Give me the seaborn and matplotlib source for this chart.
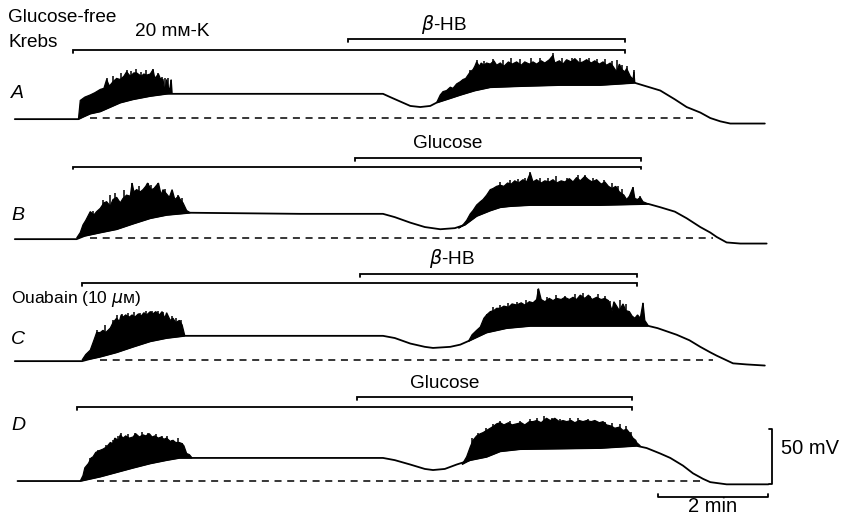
import numpy as np
import pandas as pd
import matplotlib
matplotlib.use("Agg")
import matplotlib.pyplot as plt
import seaborn as sns

# ---------------- data (time in s, membrane potential in mV above resting level) -------------
A_t = [-64, 6, 11, 19, 30, 41, 52, 66, 85, 103, 140, 250, 341, 349, 360, 371, 382, 393, 400, 415,
       426, 442, 459, 492, 536, 580, 618, 646, 662, 675, 690, 701, 712, 723, 761]
A_v = [-1, -1, 1, 4, 6, 10, 14, 17, 20, 22, 22, 22, 22, 19, 15, 11, 10, 11, 14, 18,
       21, 25, 28, 29, 30, 30, 32, 25, 17, 10, 5, 0, -3, -5, -5]
A_b1_t = [6, 8, 13, 19, 24, 30, 34, 37, 40, 44, 48, 52, 56, 59, 63, 67, 70, 75, 78, 81, 85, 88,
          90, 94, 96, 99, 101, 103, 106, 108, 109]
A_b1_v = [-1, 16, 19, 21, 23, 26, 27, 35, 29, 33, 36, 35, 38, 42, 38, 41, 41, 38, 40, 39, 40, 44,
          36, 40, 36, 35, 24, 35, 24, 35, 23]
A_b2_t = [400, 404, 407, 411, 415, 418, 422, 426, 429, 432, 437, 440, 442, 444, 447, 449, 452, 455,
          459, 463, 466, 470, 474, 479, 483, 488, 493, 497, 502, 506, 510, 515, 519, 524, 528, 530,
          535, 539, 543, 548, 552, 557, 561, 565, 570, 574, 579, 583, 587, 591, 594, 598, 601, 604,
          607, 609, 613, 616, 617, 618]
A_b2_v = [14, 21, 24, 25, 28, 27, 31, 33, 35, 36, 42, 44, 47, 51, 47, 50, 48, 50, 49, 52, 48, 50,
          47, 51, 49, 51, 48, 51, 49, 51, 49, 52, 50, 53, 57, 50, 52, 49, 53, 51, 54, 50, 51, 53,
          50, 52, 49, 51, 48, 50, 47, 42, 49, 44, 42, 45, 38, 35, 42, 32]
A_s1_t = [37, 44, 53, 59, 64, 69, 75, 80, 88, 94, 98, 101, 105, 108]
A_s1_v = [36, 38, 41, 44, 43, 45, 42, 44, 45, 41, 37, 36, 36, 35]
A_s2_t = [437, 444, 452, 462, 473, 482, 492, 504, 514, 528, 538, 549, 558, 568, 576, 585, 593,
          598, 604, 609, 617]
A_s2_v = [44, 53, 52, 54, 53, 55, 54, 55, 55, 59, 55, 55, 55, 55, 54, 54, 52, 53, 48, 47, 44]

B_t = [-64, 4, 13, 30, 48, 66, 85, 103, 129, 250, 341, 354, 371, 387, 404, 420, 431, 444, 459,
       470, 481, 503, 580, 633, 646, 662, 675, 690, 701, 708, 719, 734, 763]
B_v = [-1, -1, 2, 5, 8, 13, 18, 21, 23, 22, 22, 19, 14, 10, 8, 9, 12, 20, 25,
       28, 29, 30, 30, 31, 28, 24, 18, 10, 5, 1, -4, -5, -5]
B_b1_t = [4, 8, 11, 14, 19, 23, 26, 30, 34, 37, 41, 44, 48, 52, 55, 59, 63, 65, 67, 70, 74, 77,
          80, 82, 86, 89, 94, 97, 99, 102, 106, 109, 112, 116, 118, 121, 125, 129]
B_b1_v = [0, 5, 12, 16, 24, 21, 24, 27, 32, 33, 29, 35, 37, 32, 36, 39, 38, 50, 42, 44, 42, 44,
          47, 50, 44, 45, 50, 39, 44, 41, 37, 44, 35, 38, 35, 32, 25, 23]
B_b2_t = [424, 429, 433, 437, 440, 444, 448, 451, 455, 459, 462, 466, 470, 474, 478, 482, 486,
          490, 495, 499, 503, 506, 510, 515, 519, 524, 528, 532, 537, 541, 546, 550, 554, 558,
          563, 567, 571, 576, 581, 585, 589, 593, 597, 601, 606, 609, 612, 616, 618, 621, 624,
          627, 633]
B_b2_v = [9, 12, 16, 22, 25, 30, 33, 35, 39, 44, 45, 47, 48, 47, 50, 49, 52, 50, 53, 51, 59,
          51, 53, 50, 52, 51, 53, 50, 52, 51, 54, 51, 55, 52, 56, 53, 51, 53, 49, 51, 47, 45,
          47, 42, 39, 35, 38, 46, 36, 35, 37, 33, 31]
B_s1_t = [22, 33, 41, 46, 56, 65, 73, 82, 86, 94, 101, 109, 116, 120]
B_s1_v = [25, 35, 39, 41, 44, 50, 47, 50, 48, 50, 45, 42, 39, 36]
B_s2_t = [453, 461, 470, 481, 490, 497, 503, 514, 523, 531, 543, 556, 563, 572, 584, 593, 600,
          604, 616, 624]
B_s2_v = [36, 44, 51, 53, 54, 55, 60, 55, 55, 56, 55, 57, 57, 55, 53, 50, 47, 45, 46, 38]

C_t = [-64, 10, 19, 30, 48, 66, 85, 103, 123, 250, 341, 354, 371, 387, 396, 415, 426, 437, 455,
       477, 503, 580, 633, 643, 664, 678, 690, 701, 708, 726, 741, 761]
C_v = [-1, -1, 1, 3, 7, 12, 17, 20, 22, 22, 22, 20, 15, 12, 11, 12, 14, 18, 25,
       29, 31, 31, 31, 29, 23, 18, 12, 7, 4, -3, -4, -5]
C_b1_t = [10, 14, 19, 23, 26, 30, 33, 36, 41, 44, 48, 51, 53, 55, 58, 62, 65, 68, 72, 75, 78,
          81, 85, 88, 91, 95, 98, 101, 103, 107, 110, 113, 117, 120, 123]
C_b1_v = [0, 5, 9, 18, 25, 25, 27, 25, 29, 34, 38, 35, 41, 39, 41, 39, 41, 39, 42, 40, 43,
          41, 44, 42, 44, 41, 44, 38, 43, 36, 38, 34, 36, 32, 22]
C_b2_t = [435, 439, 444, 448, 452, 455, 459, 463, 466, 470, 474, 479, 483, 488, 493, 497, 502,
          506, 510, 512, 515, 519, 524, 528, 532, 537, 541, 546, 550, 554, 558, 563, 567, 571,
          576, 581, 585, 589, 593, 595, 598, 601, 605, 608, 612, 615, 618, 621, 624, 627, 629, 633]
C_b2_v = [17, 23, 27, 30, 38, 41, 44, 45, 47, 47, 49, 48, 51, 50, 52, 50, 53, 52, 55, 65, 55,
          53, 56, 54, 56, 55, 57, 55, 57, 55, 59, 56, 59, 55, 57, 55, 56, 54, 45, 53, 49, 45,
          51, 45, 44, 40, 38, 41, 38, 52, 36, 31]
C_s1_t = [26, 35, 44, 48, 54, 61, 67, 74, 80, 87, 94, 99, 103, 109, 113, 119]
C_s1_v = [27, 32, 36, 41, 42, 43, 44, 43, 45, 45, 45, 44, 42, 40, 38, 36]
C_s2_t = [450, 455, 462, 470, 479, 488, 498, 512, 521, 531, 541, 552, 561, 569, 578, 585, 591,
          602, 608, 627]
C_s2_v = [32, 42, 48, 50, 52, 53, 55, 65, 57, 59, 58, 60, 61, 58, 60, 58, 54, 55, 51, 52]

D_t = [-61, 8, 19, 30, 48, 66, 85, 103, 117, 250, 341, 354, 371, 387, 396, 409, 422, 437, 455,
       470, 492, 580, 620, 631, 646, 657, 671, 682, 693, 701, 719, 765]
D_v = [0, 0, 2, 4, 8, 12, 16, 19, 21, 21, 21, 19, 15, 11, 10, 11, 15, 19, 22,
       27, 29, 30, 32, 30, 25, 21, 14, 7, 2, -1, -3, -3]
D_b1_t = [8, 11, 13, 17, 20, 22, 25, 30, 33, 37, 41, 44, 46, 50, 52, 55, 58, 62, 66, 69, 73,
          77, 80, 84, 87, 90, 94, 97, 100, 103, 107, 110, 113, 117, 120, 122, 125, 128, 131]
D_b1_v = [0, 5, 12, 16, 21, 22, 26, 28, 29, 31, 35, 34, 39, 37, 42, 39, 41, 39, 40, 43, 40,
          42, 41, 43, 40, 41, 39, 40, 38, 39, 36, 37, 35, 35, 34, 32, 25, 24, 21]
D_b2_t = [428, 433, 437, 440, 444, 448, 451, 455, 459, 463, 466, 470, 474, 479, 483, 488, 493,
          497, 502, 506, 510, 515, 519, 521, 525, 530, 535, 539, 543, 548, 552, 557, 561, 565,
          570, 574, 579, 583, 587, 592, 596, 601, 605, 609, 613, 616, 619, 620, 624]
D_b2_v = [15, 22, 31, 37, 41, 43, 44, 46, 48, 50, 52, 53, 51, 53, 51, 52, 53, 51, 54, 54, 55,
          53, 56, 57, 55, 57, 54, 55, 54, 55, 53, 55, 54, 55, 54, 55, 53, 54, 51, 50, 48, 49,
          46, 47, 43, 39, 37, 35, 32]
D_s1_t = [19, 28, 36, 44, 50, 53, 61, 68, 76, 83, 91, 98, 103, 109, 116, 120]
D_s1_v = [21, 28, 33, 37, 41, 44, 43, 44, 45, 44, 43, 41, 41, 37, 39, 35]
D_s2_t = [439, 446, 454, 462, 470, 481, 492, 503, 510, 518, 527, 536, 547, 556, 567, 575, 585,
          593, 602, 608, 614]
D_s2_v = [39, 44, 48, 52, 55, 55, 55, 56, 57, 59, 57, 56, 57, 57, 56, 55, 54, 53, 52, 50, 45]

# dashed resting-potential lines (start, end time)
A_rest = [19, 682]
B_rest = [19, 704]
C_rest = [30, 704]
D_rest = [26, 690]

# solution bars: (start time, end time)
A_bars = {"20 mм-K": [0, 607], "β-HB": [303, 607]}
B_bars = {"long": [0, 625], "Glucose": [310, 625]}
C_bars = {"long": [10, 620], "β-HB": [316, 620]}
D_bars = {"long": [4, 615], "Glucose": [312, 615]}

scale_time = [644, 764]   # 2 min
scale_volt = [31, 81]     # 50 mV

# ---------------- layout -------------------------------------------------------------------
W, H = 847, 518
XL = (-80.3, 851.4)
YL = (0.0, 470.9)
offsets = {"A": 363.6, "B": 254.5, "C": 143.6, "D": 33.6}
bar_heights = {"A": (62, 72), "B": (65, 73), "C": (70, 78), "D": (67, 76)}

sns.set_style("white")
plt.rcParams["font.family"] = ["Liberation Sans", "DejaVu Sans"]
plt.rcParams["mathtext.fontset"] = "dejavusans"
plt.rcParams["text.color"] = "black"

fig = plt.figure(figsize=(W / 100, H / 100), dpi=100)
ax = fig.add_axes([0, 0, 1, 1])
ax.set_xlim(*XL)
ax.set_ylim(*YL)
ax.axis("off")

LW = 1.3
traces = {
    "A": (A_t, A_v, [(A_b1_t, A_b1_v), (A_b2_t, A_b2_v)], [(A_s1_t, A_s1_v), (A_s2_t, A_s2_v)], A_rest, A_bars),
    "B": (B_t, B_v, [(B_b1_t, B_b1_v), (B_b2_t, B_b2_v)], [(B_s1_t, B_s1_v), (B_s2_t, B_s2_v)], B_rest, B_bars),
    "C": (C_t, C_v, [(C_b1_t, C_b1_v), (C_b2_t, C_b2_v)], [(C_s1_t, C_s1_v), (C_s2_t, C_s2_v)], C_rest, C_bars),
    "D": (D_t, D_v, [(D_b1_t, D_b1_v), (D_b2_t, D_b2_v)], [(D_s1_t, D_s1_v), (D_s2_t, D_s2_v)], D_rest, D_bars),
}

for key, (t, v, bursts, spikes, rest, bars) in traces.items():
    off = offsets[key]
    t = np.asarray(t, float)
    v = np.asarray(v, float)
    df = pd.DataFrame({"t": t, "v": v + off})
    sns.lineplot(data=df, x="t", y="v", sort=False, estimator=None, color="black",
                 linewidth=LW, ax=ax, legend=False)
    for bt, bv in bursts:
        bt = np.asarray(bt, float)
        bv = np.asarray(bv, float)
        m = (t > bt[0]) & (t < bt[-1])
        px = np.concatenate([bt, t[m][::-1]])
        py = np.concatenate([bv, v[m][::-1]]) + off
        ax.fill(px, py, color="black", lw=0.9, joinstyle="miter")
    for st, sv in spikes:
        st = np.asarray(st, float)
        sv = np.asarray(sv, float)
        ax.vlines(st, np.interp(st, t, v) + off, sv + off, color="black", lw=1.1)
    ax.plot(rest, [off, off], color="black", lw=1.1, ls=(0, (4.6, 3.7)))
    h_long, h_short = bar_heights[key]
    (l0, l1), (s0, s1) = list(bars.values())
    tick = 2.6
    ax.plot([l0, l0, l1, l1], [off + h_long - tick, off + h_long, off + h_long, off + h_long - tick],
            color="black", lw=1.3, solid_joinstyle="miter")
    ax.plot([s0, s0, s1, s1], [off + h_short - tick, off + h_short, off + h_short, off + h_short - tick],
            color="black", lw=1.3, solid_joinstyle="miter")

# scale bars
ax.plot([scale_time[0], scale_time[0], scale_time[1], scale_time[1]],
        [19.1 + 2.6, 19.1, 19.1, 19.1 + 2.6], color="black", lw=1.3)
ax.plot([766, 769, 769, 766], [scale_volt[0], scale_volt[0], scale_volt[1], scale_volt[1]],
        color="black", lw=1.3)

# ---------------- text -------------------------------------------------------------------
def ftext(x, y, s, **kw):
    fig.text(x / W, 1 - y / H, s, color="black", **kw)

FS = 13.7
ftext(8, 17, "Glucose-free", fontsize=FS, va="center", ha="left")
ftext(8, 42, "Krebs", fontsize=FS, va="center", ha="left")
ftext(172, 32, "20 mм-K", fontsize=FS, va="center", ha="center")
ftext(444, 24, r"$\beta$-HB", fontsize=FS, va="center", ha="center")
ftext(448, 143, "Glucose", fontsize=FS, va="center", ha="center")
ftext(452, 259, r"$\beta$-HB", fontsize=FS, va="center", ha="center")
ftext(445, 383, "Glucose", fontsize=FS, va="center", ha="center")
ftext(11, 299, r"Ouabain (10 $\mu$м)", fontsize=12.5, va="center", ha="left")
for lab, yy in zip(["A", "B", "C", "D"], [93, 216, 340, 425]):
    ftext(11, yy, lab, fontsize=14, style="italic", va="center", ha="left")
ftext(781, 449, "50 mV", fontsize=14.5, va="center", ha="left")
ftext(713, 506, "2 min", fontsize=14.5, va="center", ha="center")

fig.savefig("out.png", dpi=100)
